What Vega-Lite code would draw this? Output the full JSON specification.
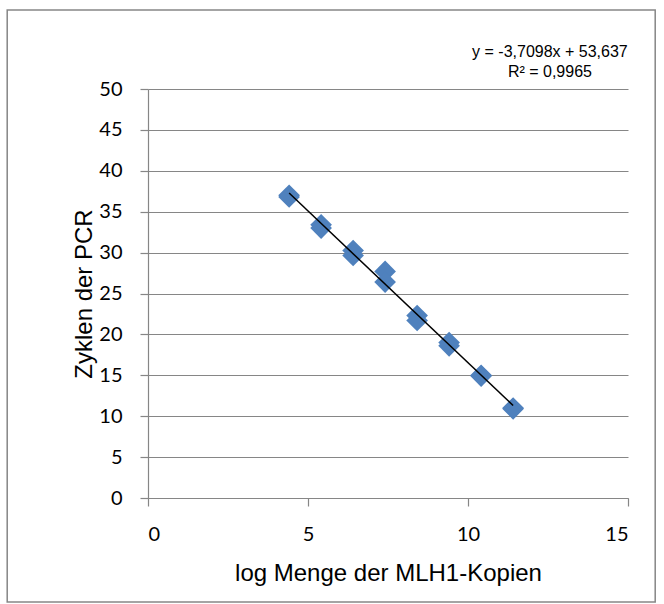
{
  "$schema": "https://vega.github.io/schema/vega-lite/v6.json",
  "width": 480,
  "height": 409,
  "autosize": {"type": "none"},
  "padding": {"left": 148, "top": 89, "right": 36, "bottom": 106},
  "background": "white",
  "config": {
    "view": {"stroke": null},
    "axis": {
      "domainColor": "#868686",
      "tickColor": "#868686",
      "gridColor": "#868686",
      "gridWidth": 1,
      "domainWidth": 1.2,
      "tickWidth": 1.2,
      "tickSize": 8,
      "labelPadding": 18,
      "labelFont": "Lato",
      "labelFontSize": 20,
      "labelColor": "#000000",
      "titleFont": "Liberation Sans",
      "titleFontSize": 24,
      "titleFontWeight": "normal",
      "titleColor": "#000000"
    }
  },
  "datasets": {
    "messwerte": [
      {"logKopien": 4.41, "zyklen": 37.0},
      {"logKopien": 4.41, "zyklen": 36.8},
      {"logKopien": 5.41, "zyklen": 33.4},
      {"logKopien": 5.41, "zyklen": 33.0},
      {"logKopien": 6.41, "zyklen": 30.25},
      {"logKopien": 6.41, "zyklen": 29.65},
      {"logKopien": 7.41, "zyklen": 27.7},
      {"logKopien": 7.41, "zyklen": 26.4},
      {"logKopien": 8.41, "zyklen": 22.3},
      {"logKopien": 8.41, "zyklen": 21.7},
      {"logKopien": 9.41, "zyklen": 19.0},
      {"logKopien": 9.41, "zyklen": 18.6},
      {"logKopien": 10.41, "zyklen": 15.0},
      {"logKopien": 10.41, "zyklen": 14.9},
      {"logKopien": 11.41, "zyklen": 11.0},
      {"logKopien": 11.41, "zyklen": 10.9}
    ],
    "trendlinie": [
      {"logKopien": 4.41, "zyklen": 37.277},
      {"logKopien": 11.41, "zyklen": 11.308}
    ]
  },
  "layer": [
    {
      "data": {"values": [{"rahmen": 1}]},
      "mark": {"type": "rect", "fill": null, "stroke": "#868686", "strokeWidth": 1.5},
      "encoding": {
        "x": {"datum": -4.4, "type": "quantitative", "scale": {"domain": [0, 15]}},
        "x2": {"datum": 15.85},
        "y": {"datum": 59.65, "type": "quantitative"},
        "y2": {"datum": -12.7}
      }
    },
    {
      "data": {"name": "messwerte"},
      "mark": {"type": "point", "shape": "diamond", "filled": true, "color": "#4F81BD", "opacity": 1, "size": 470},
      "encoding": {
        "x": {
          "field": "logKopien",
          "type": "quantitative",
          "scale": {"domain": [0, 15], "nice": false, "zero": false},
          "axis": {"values": [0, 5, 10, 15], "grid": false, "title": "log Menge der MLH1-Kopien", "titlePadding": 17}
        },
        "y": {
          "field": "zyklen",
          "type": "quantitative",
          "scale": {"domain": [0, 50], "nice": false, "zero": false},
          "axis": {"values": [0, 5, 10, 15, 20, 25, 30, 35, 40, 45, 50], "grid": true, "title": "Zyklen der PCR", "titlePadding": 2}
        }
      }
    },
    {
      "data": {"name": "trendlinie"},
      "mark": {"type": "line", "color": "#000000", "strokeWidth": 1.5},
      "encoding": {
        "x": {"field": "logKopien", "type": "quantitative"},
        "y": {"field": "zyklen", "type": "quantitative"}
      }
    },
    {
      "data": {"values": [{"gleichung": ["y = -3,7098x + 53,637", "R² = 0,9965"]}]},
      "mark": {"type": "text", "font": "Liberation Sans", "fontSize": 16, "color": "#000000", "align": "center", "baseline": "middle", "lineHeight": 20},
      "encoding": {
        "text": {"field": "gleichung"},
        "x": {"datum": 12.56, "type": "quantitative"},
        "y": {"datum": 54.56, "type": "quantitative"}
      }
    }
  ]
}
